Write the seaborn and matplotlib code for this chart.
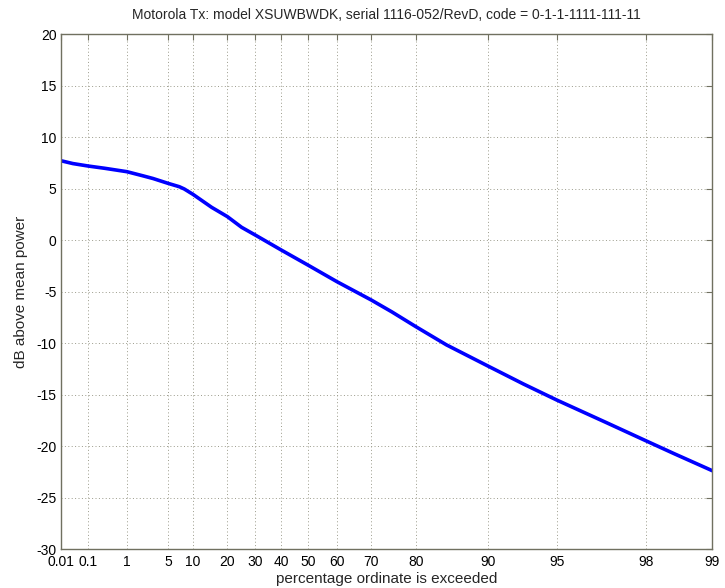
import numpy as np
import pandas as pd
import matplotlib
matplotlib.use("Agg")
import matplotlib.pyplot as plt
import seaborn as sns

# percentage of time the ordinate is exceeded, and level in dB above mean power
pct = [0.01, 0.03, 0.1, 0.3, 1, 2, 3, 5, 7, 8, 10, 15, 20, 25, 30, 40, 50,
       60, 70, 75, 80, 85, 90, 93, 95, 97, 98, 98.5, 99]
db = [7.73, 7.45, 7.21, 6.99, 6.66, 6.27, 6.0, 5.53, 5.2, 4.98, 4.45, 3.2,
      2.3, 1.26, 0.52, -0.94, -2.4, -4.02, -5.8, -6.95, -8.4, -10.15, -12.2,
      -13.95, -15.5, -17.7, -19.45, -20.68, -22.37]

xticks = [0.01, 0.1, 1, 5, 10, 20, 30, 40, 50, 60, 70, 80, 90, 95, 98, 99]
xtick_labels = ["0.01", "0.1", "1", "5", "10", "20", "30", "40", "50", "60",
                "70", "80", "90", "95", "98", "99"]
yticks = [20, 15, 10, 5, 0, -5, -10, -15, -20, -25, -30]


# Rayleigh probability scale
def fwd(p):
    p = np.asarray(p, dtype=float)
    with np.errstate(all="ignore"):
        q = np.clip(p / 100.0, 1e-12, 1 - 1e-12)
        return -np.log10(-np.log(q))


def inv(x):
    x = np.asarray(x, dtype=float)
    with np.errstate(all="ignore"):
        return 100.0 * np.exp(-10.0 ** (-x))


sns.set_style("white")
plt.rcParams["font.family"] = ["Liberation Sans", "DejaVu Sans"]
plt.rcParams["axes.unicode_minus"] = False

df = pd.DataFrame({"pct": pct, "db": db})

fig = plt.figure(figsize=(7.25, 5.88), dpi=100)
ax = fig.add_axes([0.0837, 0.0658, 0.8988, 0.8759])
ax.set_xscale("function", functions=(fwd, inv))

sns.lineplot(data=df, x="pct", y="db", ax=ax, color="#0000ff", linewidth=2.6,
             sort=False, estimator=None)

ax.set_xlim(0.01, 99)
ax.set_ylim(-30, 20)
ax.set_xticks(xticks)
ax.set_xticklabels(xtick_labels)
ax.xaxis.set_minor_locator(matplotlib.ticker.NullLocator())
ax.set_yticks(yticks)

ax.grid(True, linestyle=(0, (1, 2.5)), color="#9a9a8a", linewidth=0.7)
for s in ax.spines.values():
    s.set_color("#707060")
    s.set_linewidth(1.0)
ax.tick_params(direction="in", length=4, width=0.8, color="#707060",
               top=True, right=True, labelsize=10, labelcolor="black")
ax.tick_params(axis="x", pad=4)
ax.tick_params(axis="y", pad=3)

ax.set_title("Motorola Tx: model XSUWBWDK, serial 1116-052/RevD, code = 0-1-1-1111-111-11",
             fontsize=10, pad=11)
ax.set_xlabel("percentage ordinate is exceeded", fontsize=11, labelpad=2)
ax.set_ylabel("dB above mean power", fontsize=11, labelpad=6)

fig.savefig("out.png", dpi=100)
